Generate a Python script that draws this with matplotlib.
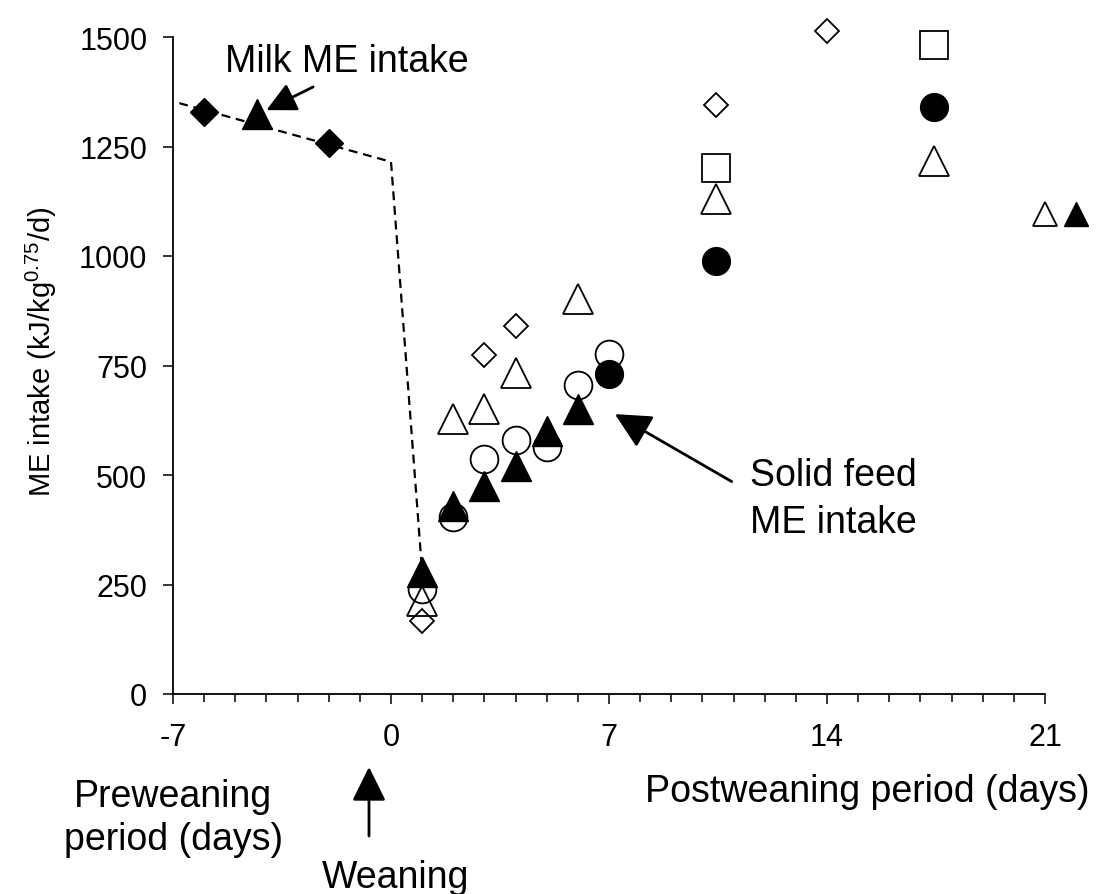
import matplotlib
matplotlib.use("Agg")
import matplotlib.pyplot as plt
from matplotlib.patches import FancyArrowPatch
from matplotlib.ticker import MultipleLocator

plt.rcParams['font.family'] = ['Liberation Sans', 'DejaVu Sans']
plt.rcParams['mathtext.fontset'] = 'custom'
plt.rcParams['mathtext.rm'] = 'Liberation Sans'
plt.rcParams['mathtext.it'] = 'Liberation Sans:italic'
plt.rcParams['axes.unicode_minus'] = False

# milk intake (preweaning)
milk_line_x = [-6.8, 0, 1]
milk_line_y = [1349, 1215, 279]
milk_diamond_x = [-6, -2]
milk_diamond_y = [1328, 1258]
milk_tri_x = [-4.3]
milk_tri_y = [1324]

# solid feed intake (postweaning), one list per marker type
open_diamond_x = [1, 3, 4, 10.45, 14]
open_diamond_y = [167, 774, 840, 1345, 1513]

open_tri_x = [1, 2, 3, 4, 6, 10.45, 17.45]
open_tri_y = [213, 628, 651, 734, 902, 1130, 1218]
open_tri_small_x = [21]
open_tri_small_y = [1096]

open_circle_x = [1, 2, 3, 4, 5, 6, 7]
open_circle_y = [240, 403, 537, 580, 563, 706, 776]

filled_tri_x = [1, 2, 3, 4, 5, 6]
filled_tri_y = [279, 430, 476, 521, 601, 651]
filled_tri_small_x = [22]
filled_tri_small_y = [1096]

filled_circle_x = [7, 10.45, 17.45]
filled_circle_y = [731, 988, 1341]

open_square_x = [10.45, 17.45]
open_square_y = [1200, 1482]

W, H = 1103, 895
fig = plt.figure(figsize=(W / 100, H / 100), dpi=100)
ax = fig.add_axes([173 / W, 1 - 695 / H, 872 / W, 657 / H])


def px(x, y):
    return x / W, 1 - y / H


ax.plot(milk_line_x, milk_line_y, ls=(0, (4, 2.6)), color='black', lw=1.6, zorder=2)

ow = 1.3
kw = dict(ls='none', clip_on=False)
ax.plot(open_diamond_x, open_diamond_y, marker='D', ms=12.5, mfc='none', mec='black', mew=ow, zorder=3, **kw)
ax.plot(open_square_x, open_square_y, marker='s', ms=20, mfc='none', mec='black', mew=ow, zorder=3, **kw)
ax.plot(open_tri_x, open_tri_y, marker='^', ms=21, mfc='none', mec='black', mew=ow, zorder=3, **kw)
ax.plot(open_tri_small_x, open_tri_small_y, marker='^', ms=17, mfc='none', mec='black', mew=ow, zorder=3, **kw)
ax.plot(open_circle_x, open_circle_y, marker='o', ms=20, mfc='none', mec='black', mew=ow, zorder=3, **kw)
ax.plot(filled_tri_x, filled_tri_y, marker='^', ms=21, color='black', zorder=4, **kw)
ax.plot(filled_tri_small_x, filled_tri_small_y, marker='^', ms=17, color='black', zorder=4, **kw)
ax.plot(filled_circle_x, filled_circle_y, marker='o', ms=20, color='black', zorder=4, **kw)
ax.plot(milk_diamond_x, milk_diamond_y, marker='D', ms=14.5, color='black', zorder=4, **kw)
ax.plot(milk_tri_x, milk_tri_y, marker='^', ms=21, color='black', zorder=4, **kw)

ax.set_xlim(-7, 21)
ax.set_ylim(0, 1500)
ax.set_xticks([-7, 0, 7, 14, 21])
ax.xaxis.set_minor_locator(MultipleLocator(1))
ax.set_yticks([0, 250, 500, 750, 1000, 1250, 1500])
for s in ['top', 'right']:
    ax.spines[s].set_visible(False)
for s in ['left', 'bottom']:
    ax.spines[s].set_linewidth(1.3)
ax.tick_params(which='major', direction='out', length=7.5, width=1.1, labelsize=22)
ax.tick_params(which='minor', direction='out', length=6, width=1.1)
ax.tick_params(axis='x', pad=13)
ax.tick_params(axis='y', pad=11)

afs = 27
head = '-|>,head_length=0.9,head_width=0.45'
ax.text(-5.33, 1422, 'Milk ME intake', fontsize=afs, ha='left', va='baseline')
ax.annotate('', xy=(-4.0, 1333), xytext=(-2.5, 1386),
            arrowprops=dict(arrowstyle=head, color='black', lw=2,
                            mutation_scale=20, shrinkA=0, shrinkB=0))
ax.text(11.53, 477, 'Solid feed', fontsize=afs, ha='left', va='baseline')
ax.text(11.53, 370, 'ME intake', fontsize=afs, ha='left', va='baseline')
ax.annotate('', xy=(7.19, 639), xytext=(10.94, 485),
            arrowprops=dict(arrowstyle='-|>,head_length=1.1,head_width=0.55', color='black',
                            lw=2, mutation_scale=20, shrinkA=0, shrinkB=0))

fig.text(*px(41, 352), r'ME intake (kJ/kg$^{\mathrm{0.75}}$/d)', fontsize=21,
         rotation=90, ha='center', va='center')
fig.text(*px(173, 807), 'Preweaning', fontsize=afs, ha='center', va='baseline')
fig.text(*px(174, 850), 'period (days)', fontsize=afs, ha='center', va='baseline')
fig.text(*px(645, 802), 'Postweaning period (days)', fontsize=afs, ha='left', va='baseline')
fig.text(*px(322, 888), 'Weaning', fontsize=afs, ha='left', va='baseline')
fig.patches.append(FancyArrowPatch(
    px(369, 837), px(369, 768), transform=fig.transFigure,
    arrowstyle='-|>,head_length=1.05,head_width=0.52', color='black', lw=2,
    mutation_scale=20, shrinkA=0, shrinkB=0))

fig.savefig('out.png', dpi=100)
